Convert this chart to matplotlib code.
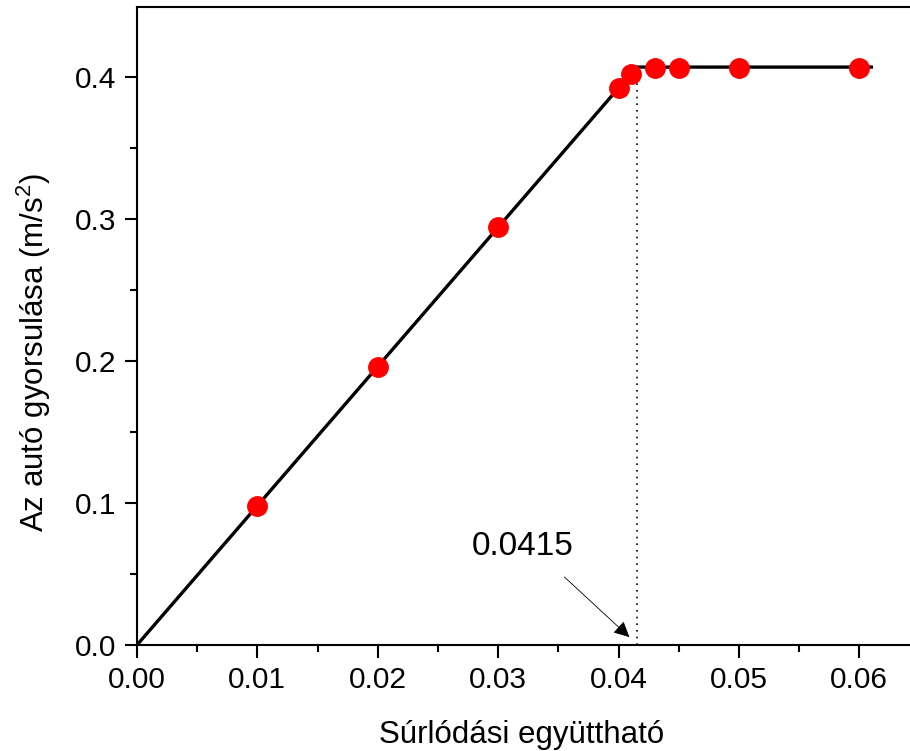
import numpy as np
import matplotlib.pyplot as plt
from matplotlib.ticker import MultipleLocator

plt.rcParams['font.family'] = ['Liberation Sans', 'DejaVu Sans']
plt.rcParams['mathtext.fontset'] = 'custom'
plt.rcParams['mathtext.rm'] = 'Liberation Sans'
plt.rcParams['mathtext.it'] = 'Liberation Sans'

# measured points
mu = [0.01, 0.02, 0.03, 0.04, 0.041, 0.043, 0.045, 0.05, 0.06]
acc = [0.098, 0.196, 0.294, 0.392, 0.402, 0.406, 0.406, 0.406, 0.406]

# model line: a = g*mu up to the critical value, then constant
mu_crit = 0.0415
a_max = 0.4067
line_x = [0.0, mu_crit, 0.061]
line_y = [0.0, a_max, a_max]

fig = plt.figure(figsize=(9.1, 7.51), dpi=100)
ax = fig.add_axes([0.1505, 0.1411, 0.860, 0.8496])

ax.plot(line_x, line_y, color='black', lw=2.4, zorder=2)
ax.plot(mu, acc, 'o', color='red', ms=14, mec='red', zorder=3)
ax.plot([mu_crit, mu_crit], [0, a_max], color='black', lw=1.2,
        linestyle=(0, (1, 3)), zorder=1)

ax.annotate('', xy=(0.0409, 0.0056), xytext=(0.0355, 0.0479),
            arrowprops=dict(arrowstyle='-|>', color='black', lw=0.6,
                            mutation_scale=24, shrinkA=0, shrinkB=0))
ax.text(0.0320, 0.0634, '0.0415', fontsize=24, ha='center', va='baseline')

ax.set_xlim(0, 0.065)
ax.set_ylim(0, 0.449)
ax.xaxis.set_major_locator(MultipleLocator(0.01))
ax.xaxis.set_minor_locator(MultipleLocator(0.005))
ax.yaxis.set_major_locator(MultipleLocator(0.1))
ax.yaxis.set_minor_locator(MultipleLocator(0.05))
ax.xaxis.set_major_formatter(plt.FormatStrFormatter('%.2f'))
ax.yaxis.set_major_formatter(plt.FormatStrFormatter('%.1f'))

ax.tick_params(which='major', direction='out', length=9, width=1.5,
               labelsize=21.5, pad=6)
ax.tick_params(which='minor', direction='out', length=5, width=1.5)
for s in ax.spines.values():
    s.set_linewidth(1.5)
ax.spines['right'].set_visible(False)

ax.set_xlabel('Súrlódási együttható', fontsize=22.5)
ax.set_ylabel('Az autó gyorsulása (m/s$^2$)', fontsize=22.5)
ax.xaxis.set_label_coords(0.492, -0.118)
ax.yaxis.set_label_coords(-0.107, 0.459)

fig.savefig('out.png', dpi=100, facecolor='white')
